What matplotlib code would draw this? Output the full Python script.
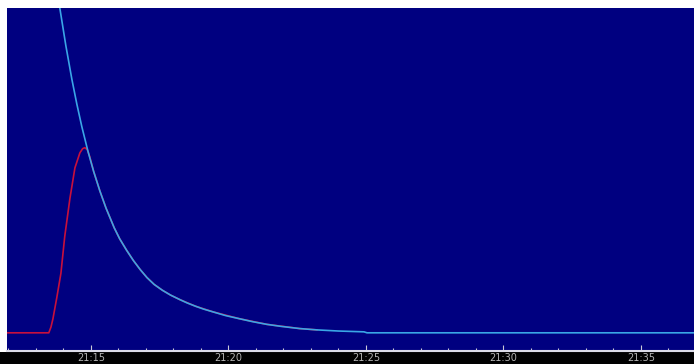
import matplotlib
matplotlib.use("Agg")
import matplotlib.pyplot as plt
from matplotlib.ticker import MultipleLocator, FuncFormatter
from matplotlib.patches import Rectangle

# minutes after 21:00, and the reading of each trace
cyan_t = [13.87, 14.09, 14.31, 14.49, 14.67, 14.89, 15.10, 15.33, 15.55, 15.85,
          16.05, 16.30, 16.55, 16.80, 17.04, 17.30, 17.60, 17.90, 18.24, 18.50,
          18.80, 19.10, 19.44, 19.90, 20.42, 20.90, 21.40, 21.90, 22.60, 23.22,
          24.00, 24.93, 25.04, 36.93]
cyan_v = [100.0, 88.4, 78.0, 70.4, 63.5, 56.0, 49.7, 43.6, 38.4, 32.3,
          28.9, 25.4, 22.2, 19.4, 17.0, 14.9, 13.1, 11.6, 10.2, 9.2,
          8.2, 7.3, 6.45, 5.3, 4.3, 3.4, 2.6, 2.0, 1.3, 0.9,
          0.55, 0.3, 0.0, 0.0]

red_t = [11.95, 13.47, 13.55, 13.62, 13.76, 13.91, 14.05, 14.24, 14.42, 14.60,
         14.70, 14.78, 14.87, 14.96, 15.10, 15.33, 15.55, 15.85, 16.05, 16.30,
         16.55, 16.80, 17.04, 17.30, 17.60, 17.90, 18.24, 18.80, 19.44, 20.42,
         21.40, 22.60, 23.22]
red_v = [0.0, 0.0, 1.8, 4.3, 10.8, 18.3, 29.7, 41.5, 50.8, 55.4,
         56.7, 57.0, 56.4, 54.2, 49.7, 43.6, 38.4, 32.3, 28.9, 25.4,
         22.2, 19.4, 17.0, 14.9, 13.1, 11.6, 10.2, 8.2, 6.45, 4.3,
         2.6, 1.3, 0.9]

W, H = 694, 364
fig = plt.figure(figsize=(W / 100, H / 100), dpi=100, facecolor="white")

# black strip holding the time labels (kept behind the axes)
fig.patches.append(Rectangle((0, 0), 1, 12 / H, transform=fig.transFigure,
                             facecolor="black", edgecolor="none", zorder=-1))

ax = fig.add_axes([7 / W, 13 / H, (W - 7) / W, (H - 8 - 13) / H])
ax.set_facecolor("#000080")

ax.plot(red_t, red_v, color="#c8103c", lw=1.2, zorder=2)
ax.plot(cyan_t, cyan_v, color="#3aa6e6", lw=1.2, zorder=3)

ax.set_xlim(11.95, 36.93)
ax.set_ylim(-5.6, 100)

ax.xaxis.set_major_locator(MultipleLocator(5))
ax.xaxis.set_minor_locator(MultipleLocator(1))
ax.xaxis.set_major_formatter(FuncFormatter(lambda m, _: f"21:{int(round(m)):02d}"))
ax.tick_params(axis="x", which="major", direction="in", length=4, width=0.8,
               color="#c8c8d8", labelcolor="#b4b4b4", labelsize=7, pad=1.5)
ax.tick_params(axis="x", which="minor", direction="in", length=2.5, width=0.8,
               color="#c8c8d8")
ax.set_yticks([])

for side in ["left", "right", "top"]:
    ax.spines[side].set_visible(False)
ax.spines["bottom"].set_color("#dcdce8")
ax.spines["bottom"].set_linewidth(1.5)

fig.savefig("out.png", dpi=100, facecolor=fig.get_facecolor())
